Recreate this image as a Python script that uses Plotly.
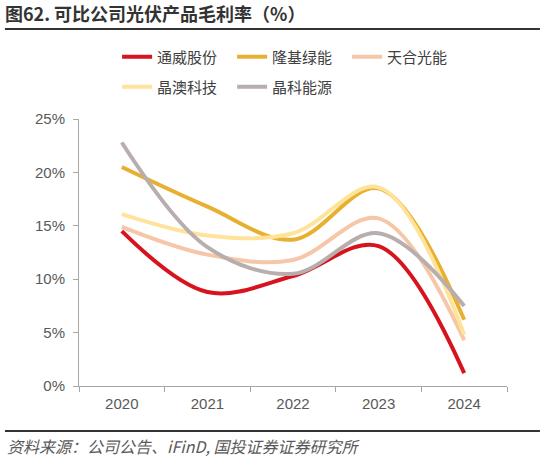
import plotly.graph_objects as go

years = ["2020", "2021", "2022", "2023", "2024"]

tongwei = [14.5, 8.8, 10.3, 13.1, 1.2]
longi = [20.5, 16.8, 13.7, 18.5, 6.2]
trina = [14.9, 12.3, 11.8, 15.7, 4.3]
jasolar = [16.1, 14.1, 14.3, 18.6, 4.8]
jinko = [22.8, 13.0, 10.5, 14.3, 7.5]

series = [
    ("通威股份", tongwei, "#D7141E", "legend"),
    ("隆基绿能", longi, "#E8B030", "legend"),
    ("天合光能", trina, "#F6C6A8", "legend"),
    ("晶澳科技", jasolar, "#FFE39A", "legend2"),
    ("晶科能源", jinko, "#B8AEAE", "legend2"),
]

fig = go.Figure()
for name, vals, color, lg in series:
    fig.add_trace(go.Scatter(
        x=years, y=vals, name=name, mode="lines",
        line=dict(color=color, width=4, shape="spline", smoothing=1),
        legend=lg,
    ))

legend_style = dict(
    orientation="h", xanchor="left", yanchor="middle",
    font=dict(family="Noto Sans CJK SC", size=15, color="#404040"),
    entrywidth=70, entrywidthmode="pixels",
    bgcolor="rgba(0,0,0,0)",
)

axis_font = dict(family="Liberation Sans", size=15, color="#595959")

fig.update_layout(
    width=545, height=457,
    margin=dict(l=79, r=38, t=119, b=71),
    paper_bgcolor="white", plot_bgcolor="white",
    title=dict(
        text="<b>图62. 可比公司光伏产品毛利率（%）</b>",
        x=0.009, xanchor="left", y=1 - 15 / 457, yanchor="middle",
        font=dict(family="Noto Sans CJK SC", size=18, color="#333333"),
    ),
    legend=dict(x=0.089, y=1.232, **legend_style),
    legend2=dict(x=0.089, y=1.120, **legend_style),
    xaxis=dict(
        type="category", range=[-0.5, 4.5], tickson="boundaries",
        showline=True, linecolor="#A6A6A6", linewidth=1,
        ticks="outside", ticklen=5, tickcolor="#A6A6A6",
        showgrid=False, zeroline=False, ticklabelstandoff=4,
        tickfont=axis_font,
    ),
    yaxis=dict(
        range=[0, 25], tickvals=[0, 5, 10, 15, 20, 25],
        ticktext=["0%", "5%", "10%", "15%", "20%", "25%"],
        showline=True, linecolor="#A6A6A6", linewidth=1,
        ticks="outside", ticklen=5, tickcolor="#A6A6A6",
        showgrid=False, zeroline=False, ticklabelstandoff=5,
        tickfont=axis_font,
    ),
    shapes=[
        dict(type="line", xref="paper", yref="paper", x0=-0.173, x1=1.077,
             y0=1.337, y1=1.337, line=dict(color="#333333", width=2)),
        dict(type="line", xref="paper", yref="paper", x0=-0.173, x1=1.077,
             y0=-0.169, y1=-0.169, line=dict(color="#333333", width=2)),
    ],
    annotations=[
        dict(text="<i>资料来源：公司公告、iFinD, 国投证券证券研究所</i>",
             xref="paper", yref="paper", x=-0.173, y=-0.225,
             xanchor="left", yanchor="middle", showarrow=False,
             font=dict(family="Noto Sans CJK SC", size=16, color="#595959")),
    ],
)

fig.write_html("out.html", config={"displayModeBar": False},
               post_script="document.body.style.margin='0';")
